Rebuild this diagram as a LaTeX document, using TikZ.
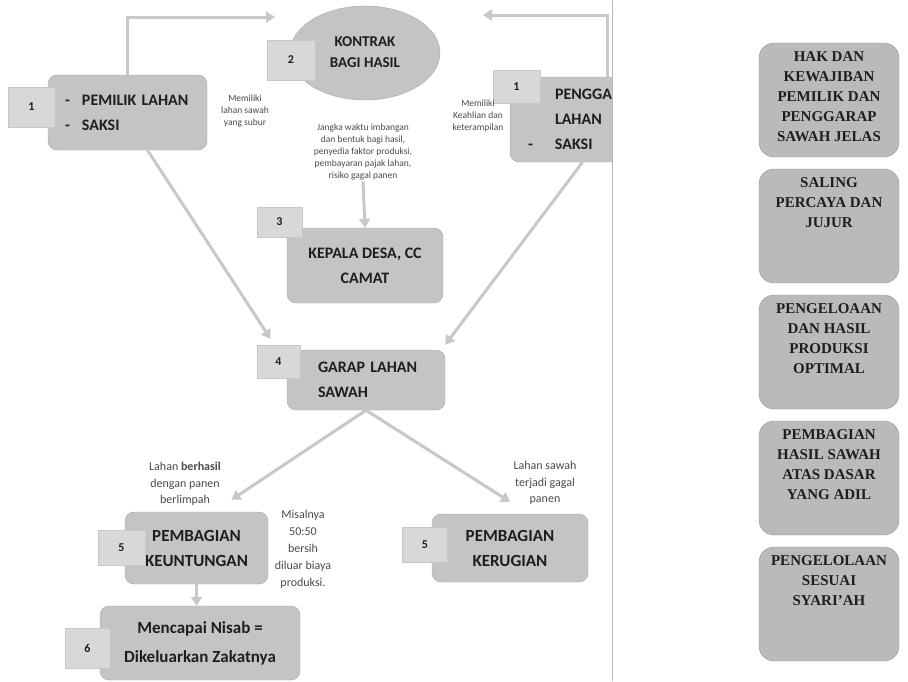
\documentclass[tikz,border=0pt]{standalone}
\usepackage{fontspec}
\setmainfont{Liberation Serif}
\newfontfamily\calibri{Carlito}
\usetikzlibrary{shapes.geometric,arrows.meta}

\definecolor{boxgray}{HTML}{C4C4C4}
\definecolor{tabgray}{HTML}{D8D8D8}
\definecolor{edgegray}{HTML}{A8A8A8}
\definecolor{linegray}{HTML}{C8C8C8}
\definecolor{inkgray}{HTML}{1E1E1E}

\tikzset{
  stepbox/.style={draw=edgegray, fill=boxgray, rounded corners=9pt, inner sep=0pt,
    text=inkgray, font=\calibri\bfseries\fontsize{16}{25}\selectfont},
  numtab/.style={draw=tabgray!92!black, fill=tabgray, inner sep=0pt,
    text=inkgray, font=\calibri\bfseries\fontsize{12}{14}\selectfont},
  smallnote/.style={text=inkgray!80, align=center, inner sep=1pt,
    font=\calibri\fontsize{9.5}{12}\selectfont},
  remark/.style={smallnote, font=\calibri\fontsize{12}{16.5}\selectfont},
  valbox/.style={draw=edgegray!90!black, fill=boxgray!95!black, rounded corners=15pt,
    minimum width=140pt, minimum height=114pt, inner sep=0pt,
    text=inkgray, font=\bfseries\fontsize{15}{20}\selectfont},
  flow/.style={draw=linegray, line width=3pt, -{Triangle[length=9pt,width=11pt]}},
}
\newcommand{\valtext}[1]{\parbox[c][96pt][t]{136pt}{\centering #1}}

\begin{document}
\begin{tikzpicture}[x=1pt,y=-1pt]
\fill[white] (0,0) rectangle (908,681);
\useasboundingbox (0,0) rectangle (908,681);

\begin{scope}
\clip (0,0) rectangle (612,681);
% steps of the contract
\node[stepbox, minimum width=159pt, minimum height=75pt, text width=125pt, align=left] (pem) at (127.5,112.5)
  {\begin{tabular}{@{}p{17pt}@{}l@{}}- & PEMILIK LAHAN\\- & SAKSI\end{tabular}};
\node[ellipse, draw=edgegray, fill=boxgray, minimum width=150pt, minimum height=94pt, inner sep=0pt,
  text=inkgray, font=\calibri\bfseries\fontsize{15}{21}\selectfont] (kon) at (365,53)
  {\raisebox{4pt}{\begin{tabular}{@{}c@{}}KONTRAK\\BAGI HASIL\end{tabular}}};
\node[stepbox, minimum width=115pt, minimum height=85pt, text width=79pt, align=left] (pen) at (567.5,119.5)
  {\begin{tabular}{@{}p{27pt}@{}l@{}} & PENGGARAP\\ & LAHAN\\- & SAKSI\end{tabular}};
\node[stepbox, minimum width=156pt, minimum height=75pt, align=center] (kep) at (365,265.5) {KEPALA DESA, CC\\CAMAT};
\node[stepbox, minimum width=158pt, minimum height=60pt, text width=96pt, align=left] (gar) at (366,380)
  {\begin{tabular}{@{}l@{}}GARAP LAHAN\\SAWAH\end{tabular}};
\node[stepbox, minimum width=143pt, minimum height=72pt, align=center, font=\calibri\bfseries\fontsize{17}{25}\selectfont] (keu) at (196.5,548) {PEMBAGIAN\\KEUNTUNGAN};
\node[stepbox, minimum width=156pt, minimum height=68pt, align=center, font=\calibri\bfseries\fontsize{17}{25}\selectfont] (ker) at (510,548) {PEMBAGIAN\\KERUGIAN};
\node[stepbox, minimum width=200pt, minimum height=74pt, align=center, font=\calibri\bfseries\fontsize{17}{29}\selectfont] (men) at (200,643) {Mencapai Nisab =\\Dikeluarkan Zakatnya};

% number tabs
\node[numtab, minimum width=47pt, minimum height=40pt] (t1a) at (31.5,107) {1};
\node[numtab, minimum width=48pt, minimum height=40pt] (t2) at (291,60) {2};
\node[numtab, minimum width=47pt, minimum height=33pt] (t1b) at (516.5,86.5) {1};
\node[numtab, minimum width=45pt, minimum height=30pt] (t3) at (279.5,222) {3};
\node[numtab, minimum width=43pt, minimum height=33pt] (t4) at (278.5,361.5) {4};
\node[numtab, minimum width=47pt, minimum height=35pt] (t5a) at (121.5,547.5) {5};
\node[numtab, minimum width=45pt, minimum height=35pt] (t5b) at (425,545) {5};
\node[numtab, minimum width=45pt, minimum height=40pt] (t6) at (87.5,648) {6};

% notes
\node[smallnote] (subur) at (245,111) {Memiliki\\lahan sawah\\yang subur};
\node[smallnote] (ahli) at (478,116) {Memiliki\\Keahlian dan\\keterampilan};
\node[smallnote] (jangka) at (363,152) {Jangka waktu imbangan\\dan bentuk bagi hasil,\\penyedia faktor produksi,\\pembayaran pajak lahan,\\risiko gagal panen};
\node[remark] (berhasil) at (185,484) {Lahan \textbf{berhasil}\\dengan panen\\berlimpah};
\node[remark, font=\calibri\fontsize{12}{17}\selectfont] (misal) at (303,549) {Misalnya\\50:50\\bersih\\diluar biaya\\produksi.};
\node[remark] (gagal) at (545,483) {Lahan sawah\\terjadi gagal\\panen};

% connectors
\coordinate (kin) at (275,17);
\coordinate (pin) at (483,15);
\draw[flow] (pem.north) |- (kin);
\draw[flow] ([xshift=-18pt]pen.north east) |- (pin);
\draw[flow] (jangka.south) -- (kep.north);
\draw[flow] ([xshift=20pt]pem.south) -- ([xshift=-8pt,yshift=6pt]t4.north);
\draw[flow] ([xshift=15pt]pen.south) -- ([yshift=5pt]gar.north east);
\draw[flow] (gar.south) -- ([xshift=35pt,yshift=12pt]keu.north);
\draw[flow] (gar.south) -- ([yshift=12pt]ker.north);
\draw[flow] (keu.south) -- (keu.south |- men.north);
\end{scope}

% page gutter
\draw[gray!55, line width=1pt] (612,0) -- (612,681);

% principles
\foreach \i/\txt in {1/{HAK DAN\\KEWAJIBAN\\PEMILIK DAN\\PENGGARAP\\SAWAH JELAS},
                     2/{SALING\\PERCAYA DAN\\JUJUR},
                     3/{PENGELOAAN\\DAN HASIL\\PRODUKSI\\OPTIMAL},
                     4/{PEMBAGIAN\\HASIL SAWAH\\ATAS DASAR\\YANG ADIL},
                     5/{PENGELOLAAN\\SESUAI\\SYARI'AH}} {
  \node[valbox] (val\i) at (829,{100+126*(\i-1)}) {\valtext{\txt}};
}
\end{tikzpicture}
\end{document}
